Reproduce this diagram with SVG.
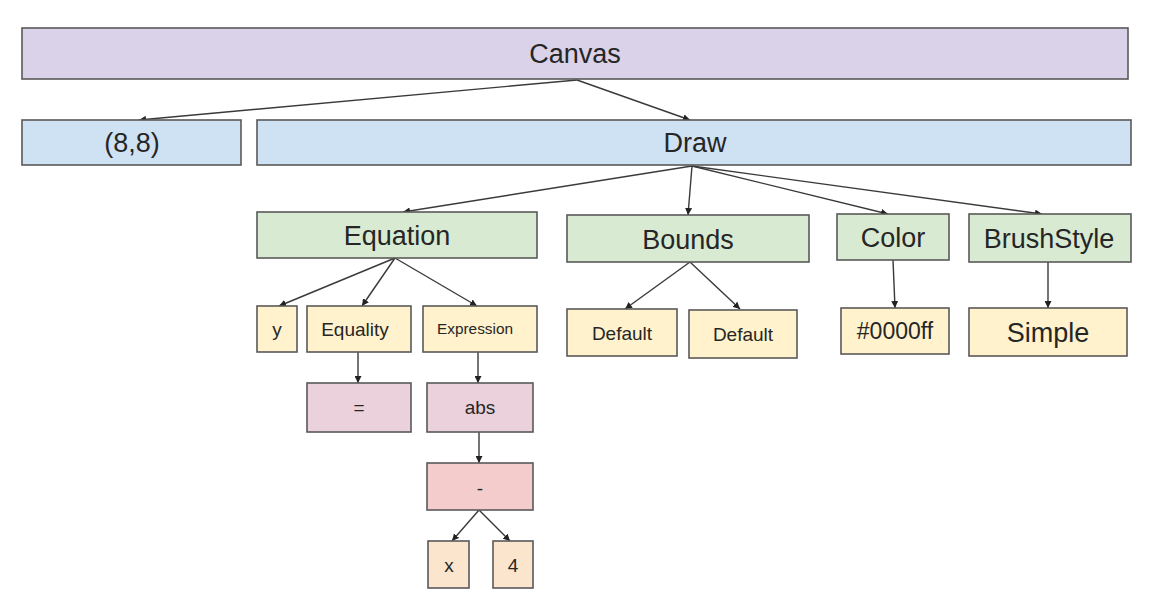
<svg xmlns="http://www.w3.org/2000/svg" width="1160" height="616" viewBox="0 0 1160 616">
<style>
.box{stroke:#595959;stroke-width:1.6}
.purple{fill:#d9d2e9}.blue{fill:#cfe2f3}.green{fill:#d9ead3}.yellow{fill:#fff2cc}.pink{fill:#ead1dc}.red{fill:#f4cccc}.orange{fill:#fce5cd}
text{font-family:"Liberation Sans",Arial,sans-serif;fill:#262626;text-anchor:middle}
.big{font-size:27px}.mid{font-size:23px}.sm{font-size:19px}.xs{font-size:15.4px}
.conn line{stroke:#3a3a3a;stroke-width:1.4;marker-end:url(#arr)}
</style>
<defs>
<marker id="arr" viewBox="0 0 8 8" refX="8" refY="4" markerWidth="7" markerHeight="7" markerUnits="userSpaceOnUse" orient="auto">
<path d="M0,0 L8,4 L0,8 z" fill="#222"/>
</marker>
</defs>
<rect width="1160" height="616" fill="#ffffff"/>
<g class="conn" id="connectors">
<line x1="577" y1="80" x2="139" y2="120"/>
<line x1="577" y1="80" x2="690" y2="120"/>
<line x1="692" y1="166" x2="403" y2="212"/>
<line x1="692" y1="166" x2="688" y2="215"/>
<line x1="692" y1="166" x2="888" y2="214"/>
<line x1="692" y1="166" x2="1042" y2="214"/>
<line x1="395" y1="258" x2="279" y2="306"/>
<line x1="395" y1="258" x2="362" y2="306"/>
<line x1="395" y1="258" x2="477" y2="306"/>
<line x1="358" y1="352" x2="358" y2="383"/>
<line x1="478" y1="352" x2="478" y2="383"/>
<line x1="479" y1="432" x2="479" y2="463"/>
<line x1="479" y1="510" x2="452" y2="541"/>
<line x1="479" y1="510" x2="510" y2="541"/>
<line x1="690" y1="262" x2="625" y2="309"/>
<line x1="690" y1="262" x2="740" y2="309"/>
<line x1="893" y1="260" x2="895" y2="308"/>
<line x1="1048" y1="262" x2="1048" y2="308"/>
</g>
<g id="canvas"><rect class="box purple" x="22" y="28" width="1106" height="51"/><text class="big" x="575" y="63">Canvas</text></g>
<g id="pos"><rect class="box blue" x="22" y="120" width="219" height="45"/><text class="big" x="132" y="152">(8,8)</text></g>
<g id="draw"><rect class="box blue" x="257" y="120" width="874" height="45"/><text class="big" x="695" y="152">Draw</text></g>
<g id="equation"><rect class="box green" x="257" y="212" width="280" height="46"/><text class="big" x="397" y="245">Equation</text></g>
<g id="bounds"><rect class="box green" x="567" y="215" width="242" height="47"/><text class="big" x="688" y="249">Bounds</text></g>
<g id="color"><rect class="box green" x="837" y="214" width="112" height="46"/><text class="big" x="893" y="247">Color</text></g>
<g id="brushstyle"><rect class="box green" x="969" y="214" width="162" height="48"/><text class="big" x="1049" y="248">BrushStyle</text></g>
<g id="y"><rect class="box yellow" x="257" y="306" width="40" height="46"/><text class="sm" x="277" y="336">y</text></g>
<g id="equality"><rect class="box yellow" x="307" y="306" width="104" height="46"/><text class="sm" x="355" y="336">Equality</text></g>
<g id="expression"><rect class="box yellow" x="423" y="306" width="114" height="46"/><text class="xs" x="475" y="334">Expression</text></g>
<g id="default1"><rect class="box yellow" x="567" y="309" width="110" height="47"/><text class="sm" x="622" y="340">Default</text></g>
<g id="default2"><rect class="box yellow" x="689" y="310" width="108" height="48"/><text class="sm" x="743" y="341">Default</text></g>
<g id="hex"><rect class="box yellow" x="841" y="308" width="108" height="46"/><text class="mid" x="895" y="339">#0000ff</text></g>
<g id="simple"><rect class="box yellow" x="969" y="308" width="158" height="48"/><text class="big" x="1048" y="342">Simple</text></g>
<g id="eq"><rect class="box pink" x="307" y="383" width="104" height="49"/><text class="sm" x="359" y="414">=</text></g>
<g id="abs"><rect class="box pink" x="427" y="383" width="106" height="49"/><text class="sm" x="480" y="414">abs</text></g>
<g id="minus"><rect class="box red" x="427" y="463" width="106" height="47"/><text class="sm" x="480" y="495">-</text></g>
<g id="x"><rect class="box orange" x="428" y="541" width="41" height="47"/><text class="sm" x="449" y="572">x</text></g>
<g id="four"><rect class="box orange" x="493" y="541" width="40" height="47"/><text class="sm" x="513" y="572">4</text></g>
</svg>
